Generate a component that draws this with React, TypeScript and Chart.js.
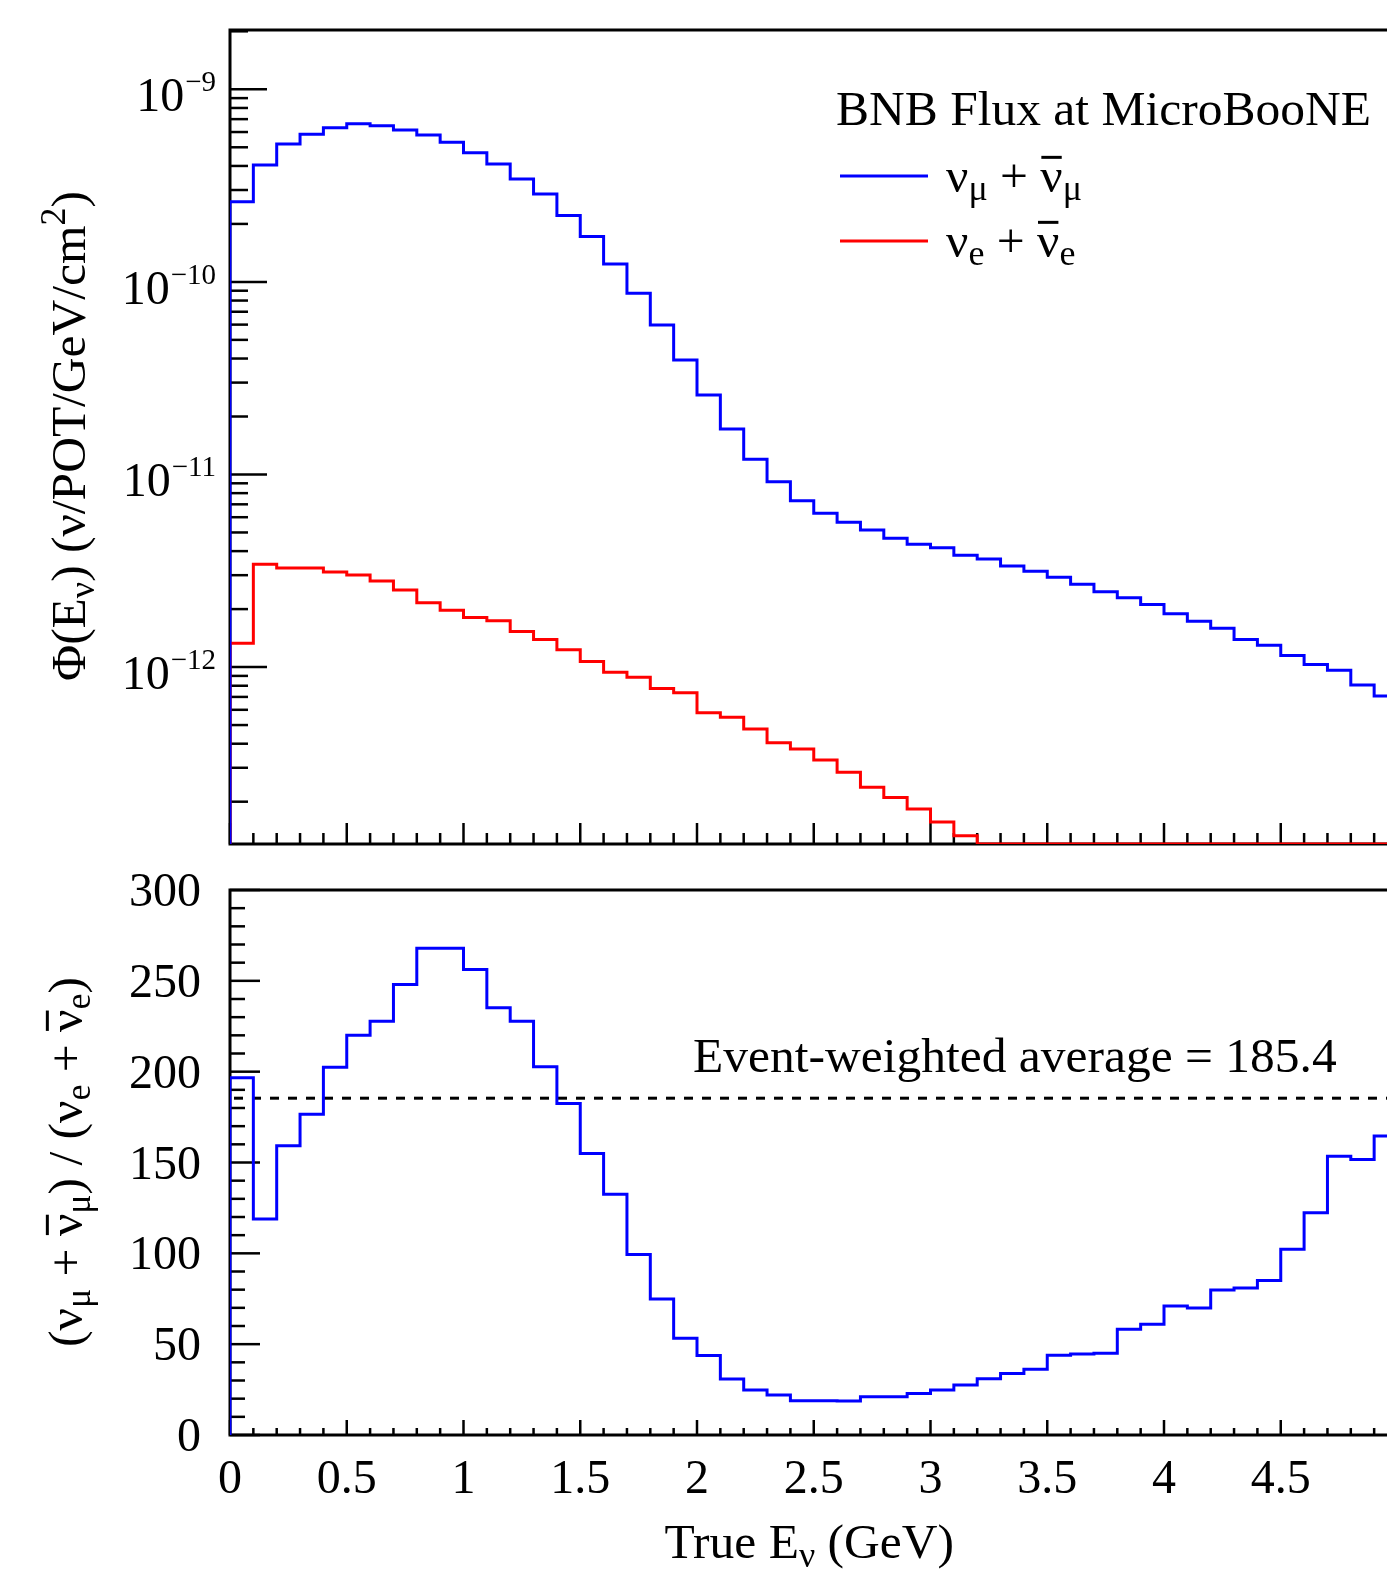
import React, { useEffect, useRef } from 'react';
import { Chart, registerables } from 'chart.js';

Chart.register(...registerables);

// ---------------- data ----------------
// lower edges of the 0.1 GeV true-energy bins (GeV)
const binLowEdges = [
  0.0, 0.1, 0.2, 0.3, 0.4, 0.5, 0.6, 0.7, 0.8, 0.9,
  1.0, 1.1, 1.2, 1.3, 1.4, 1.5, 1.6, 1.7, 1.8, 1.9,
  2.0, 2.1, 2.2, 2.3, 2.4, 2.5, 2.6, 2.7, 2.8, 2.9,
  3.0, 3.1, 3.2, 3.3, 3.4, 3.5, 3.6, 3.7, 3.8, 3.9,
  4.0, 4.1, 4.2, 4.3, 4.4, 4.5, 4.6, 4.7, 4.8, 4.9,
];
const BIN_WIDTH = 0.1;

// nu_mu + nu_mu-bar flux (nu/POT/GeV/cm^2)
const numuFlux = [
  2.61e-10, 4.05e-10, 5.20e-10, 5.84e-10, 6.32e-10, 6.63e-10, 6.47e-10, 6.15e-10, 5.79e-10, 5.31e-10,
  4.69e-10, 4.09e-10, 3.42e-10, 2.86e-10, 2.21e-10, 1.72e-10, 1.24e-10, 8.72e-11, 5.97e-11, 3.93e-11,
  2.59e-11, 1.72e-11, 1.20e-11, 9.17e-12, 7.31e-12, 6.29e-12, 5.65e-12, 5.15e-12, 4.66e-12, 4.34e-12,
  4.17e-12, 3.81e-12, 3.64e-12, 3.35e-12, 3.14e-12, 2.93e-12, 2.69e-12, 2.46e-12, 2.29e-12, 2.11e-12,
  1.89e-12, 1.73e-12, 1.59e-12, 1.39e-12, 1.30e-12, 1.15e-12, 1.03e-12, 9.62e-13, 8.07e-13, 7.08e-13,
];

// nu_e + nu_e-bar flux (nu/POT/GeV/cm^2); 0 = below the plotted range
const nueFlux = [
  1.33e-12, 3.42e-12, 3.27e-12, 3.27e-12, 3.12e-12, 3.01e-12, 2.80e-12, 2.51e-12, 2.16e-12, 1.97e-12,
  1.81e-12, 1.74e-12, 1.53e-12, 1.39e-12, 1.23e-12, 1.07e-12, 9.40e-13, 8.85e-13, 7.73e-13, 7.36e-13,
  5.80e-13, 5.49e-13, 4.77e-13, 4.05e-13, 3.76e-13, 3.29e-13, 2.84e-13, 2.38e-13, 2.10e-13, 1.83e-13,
  1.57e-13, 1.33e-13, 0, 0, 0, 0, 0, 0, 0, 0,
  0, 0, 0, 0, 0, 0, 0, 0, 0, 0,
];

// (nu_mu + nu_mu-bar) / (nu_e + nu_e-bar)
const fluxRatio = [
  196.6, 118.9, 159.2, 176.5, 202.4, 220.0, 227.7, 248.0, 267.9, 267.9,
  256.3, 235.2, 227.8, 202.7, 182.5, 155.0, 132.5, 99.4, 74.8, 53.2,
  43.7, 30.8, 24.8, 22.0, 18.9, 18.9, 18.7, 21.1, 21.1, 22.9,
  24.8, 27.5, 31.0, 33.9, 36.2, 43.9, 44.6, 45.0, 58.2, 60.9,
  71.0, 69.9, 79.8, 80.9, 85.1, 102.2, 122.3, 153.5, 151.7, 164.6,
];

const eventWeightedAverage = 185.4;

// axis ticks
const energyMajorTicks = [0, 0.5, 1, 1.5, 2, 2.5, 3, 3.5, 4, 4.5, 5];
const energyTickLabels = ['0', '0.5', '1', '1.5', '2', '2.5', '3', '3.5', '4', '4.5', '5'];
const fluxDecadeExponents = [-9, -10, -11, -12];
const ratioMajorTicks = [0, 50, 100, 150, 200, 250, 300];
const ratioTickLabels = ['0', '50', '100', '150', '200', '250', '300'];

// axis ranges
const ENERGY_MIN = 0;
const ENERGY_MAX = 5;
const FLUX_MIN = 1.206e-13;
const FLUX_MAX = 2.032e-9;
const RATIO_MIN = 0;
const RATIO_MAX = 300;

// ---------------- styling ----------------
const FONT = '"Liberation Serif", "Times New Roman", serif';
const BLUE = '#0000ff';
const RED = '#ff0000';
const W = 1420;
const TOP_H = 866;
const BOT_H = 706;
const TXT = 49.5;
const SUB = 36;

type Seg = { t: string; size: number; dy?: number; bar?: boolean };

function drawRich(ctx: CanvasRenderingContext2D, segs: Seg[], x: number, y: number, align: 'left' | 'center' | 'right') {
  const widths = segs.map((s) => {
    ctx.font = `${s.size}px ${FONT}`;
    return ctx.measureText(s.t).width;
  });
  const total = widths.reduce((a, b) => a + b, 0);
  let cx = align === 'left' ? x : align === 'center' ? x - total / 2 : x - total;
  ctx.textAlign = 'left';
  ctx.textBaseline = 'alphabetic';
  segs.forEach((s, i) => {
    ctx.font = `${s.size}px ${FONT}`;
    const yy = y + (s.dy || 0);
    ctx.fillText(s.t, cx, yy);
    if (s.bar) {
      ctx.save();
      ctx.lineWidth = 3;
      ctx.strokeStyle = ctx.fillStyle as string;
      ctx.beginPath();
      ctx.moveTo(cx + 1, yy - s.size * 0.7);
      ctx.lineTo(cx + widths[i] - 1, yy - s.size * 0.7);
      ctx.stroke();
      ctx.restore();
    }
    cx += widths[i];
  });
}

function stepPoints(values: number[], floor: number) {
  const pts: { x: number; y: number }[] = [{ x: binLowEdges[0], y: floor }];
  values.forEach((v, i) => pts.push({ x: binLowEdges[i], y: Math.max(v, floor) }));
  const last = values.length - 1;
  pts.push({ x: binLowEdges[last] + BIN_WIDTH, y: Math.max(values[last], floor) });
  return pts;
}

function line(ctx: CanvasRenderingContext2D, x1: number, y1: number, x2: number, y2: number) {
  ctx.beginPath();
  ctx.moveTo(x1, y1);
  ctx.lineTo(x2, y2);
  ctx.stroke();
}

function drawEnergyTicks(ctx: CanvasRenderingContext2D, chart: any, majorLen: number, minorLen: number) {
  const xs = chart.scales.x;
  const { bottom } = chart.chartArea;
  ctx.lineWidth = 2.5;
  for (let i = 0; i < binLowEdges.length; i++) {
    const v = binLowEdges[i];
    const isMajor = energyMajorTicks.some((m) => Math.abs(m - v) < 1e-6);
    const px = xs.getPixelForValue(v);
    line(ctx, px, bottom, px, bottom - (isMajor ? majorLen : minorLen));
  }
  const pxEnd = xs.getPixelForValue(ENERGY_MAX);
  line(ctx, pxEnd, bottom, pxEnd, bottom - majorLen);
}

function drawFrame(ctx: CanvasRenderingContext2D, chart: any) {
  const { left, right, top, bottom } = chart.chartArea;
  ctx.strokeStyle = '#000';
  ctx.lineWidth = 3;
  ctx.strokeRect(left, top, right - left, bottom - top);
}

const topAxesPlugin = {
  id: 'topAxes',
  beforeDatasetsDraw(chart: any) {
    const ctx = chart.ctx as CanvasRenderingContext2D;
    const { left } = chart.chartArea;
    const ys = chart.scales.y;
    ctx.save();
    drawFrame(ctx, chart);
    ctx.strokeStyle = '#000';
    ctx.lineWidth = 2.5;
    // log ticks
    const lo = Math.floor(Math.log10(FLUX_MIN));
    const hi = Math.ceil(Math.log10(FLUX_MAX));
    for (let e = lo; e <= hi; e++) {
      for (let m = 1; m <= 9; m++) {
        const v = m * Math.pow(10, e);
        if (v < FLUX_MIN || v > FLUX_MAX) continue;
        const py = ys.getPixelForValue(v);
        line(ctx, left, py, left + (m === 1 ? 37 : 18), py);
      }
    }
    drawEnergyTicks(ctx, chart, 21, 11);
    ctx.restore();
  },
  afterDraw(chart: any) {
    const ctx = chart.ctx as CanvasRenderingContext2D;
    const ys = chart.scales.y;
    ctx.save();
    ctx.fillStyle = '#000';
    // decade labels
    fluxDecadeExponents.forEach((e) => {
      const py = ys.getPixelForValue(Math.pow(10, e));
      ctx.font = `29px ${FONT}`;
      const sup = '\u2212' + String(Math.abs(e));
      const supW = ctx.measureText(sup).width;
      ctx.textAlign = 'right';
      ctx.textBaseline = 'alphabetic';
      ctx.fillText(sup, 216, py + 2);
      ctx.font = `48px ${FONT}`;
      ctx.fillText('10', 216 - supW - 1, py + 22);
    });
    // y title
    ctx.save();
    ctx.translate(85, 436);
    ctx.rotate(-Math.PI / 2);
    drawRich(
      ctx,
      [
        { t: '\u03A6(E', size: TXT },
        { t: '\u03BD', size: SUB, dy: 9 },
        { t: ') (\u03BD/POT/GeV/cm', size: TXT },
        { t: '2', size: SUB, dy: -20 },
        { t: ')', size: TXT },
      ],
      0,
      0,
      'center'
    );
    ctx.restore();
    // legend
    drawRich(ctx, [{ t: 'BNB Flux at MicroBooNE', size: TXT }], 836, 125, 'left');
    ctx.lineWidth = 3;
    ctx.strokeStyle = BLUE;
    line(ctx, 840, 176, 928, 176);
    ctx.strokeStyle = RED;
    line(ctx, 840, 241, 928, 241);
    ctx.fillStyle = '#000';
    drawRich(
      ctx,
      [
        { t: '\u03BD', size: TXT },
        { t: '\u03BC', size: SUB, dy: 8 },
        { t: ' + ', size: TXT },
        { t: '\u03BD', size: TXT, bar: true },
        { t: '\u03BC', size: SUB, dy: 8 },
      ],
      946,
      192,
      'left'
    );
    drawRich(
      ctx,
      [
        { t: '\u03BD', size: TXT },
        { t: 'e', size: SUB, dy: 8 },
        { t: ' + ', size: TXT },
        { t: '\u03BD', size: TXT, bar: true },
        { t: 'e', size: SUB, dy: 8 },
      ],
      946,
      257,
      'left'
    );
    ctx.restore();
  },
};

const bottomAxesPlugin = {
  id: 'bottomAxes',
  beforeDatasetsDraw(chart: any) {
    const ctx = chart.ctx as CanvasRenderingContext2D;
    const { left, right } = chart.chartArea;
    const ys = chart.scales.y;
    ctx.save();
    drawFrame(ctx, chart);
    ctx.strokeStyle = '#000';
    ctx.lineWidth = 2.5;
    for (let v = RATIO_MIN; v <= RATIO_MAX; v += 10) {
      const py = ys.getPixelForValue(v);
      const isMajor = ratioMajorTicks.includes(v);
      line(ctx, left, py, left + (isMajor ? 30 : 15), py);
    }
    drawEnergyTicks(ctx, chart, 15, 7);
    // event-weighted average
    ctx.lineWidth = 3;
    ctx.setLineDash([9, 9]);
    const pa = ys.getPixelForValue(eventWeightedAverage);
    line(ctx, left + 4, pa, right, pa);
    ctx.setLineDash([]);
    ctx.restore();
  },
  afterDraw(chart: any) {
    const ctx = chart.ctx as CanvasRenderingContext2D;
    const xs = chart.scales.x;
    const ys = chart.scales.y;
    ctx.save();
    ctx.fillStyle = '#000';
    ctx.font = `48px ${FONT}`;
    ctx.textAlign = 'right';
    ctx.textBaseline = 'alphabetic';
    ratioMajorTicks.forEach((v, i) => {
      ctx.fillText(ratioTickLabels[i], 201, ys.getPixelForValue(v) + 16);
    });
    ctx.textAlign = 'center';
    const base = chart.chartArea.bottom + 58;
    energyMajorTicks.forEach((v, i) => {
      ctx.fillText(energyTickLabels[i], xs.getPixelForValue(v), base);
    });
    drawRich(
      ctx,
      [
        { t: 'True E', size: TXT },
        { t: '\u03BD', size: SUB, dy: 9 },
        { t: ' (GeV)', size: TXT },
      ],
      954,
      chart.chartArea.bottom + 123,
      'right'
    );
    drawRich(ctx, [{ t: 'Event-weighted average = 185.4', size: TXT }], 693, ys.getPixelForValue(eventWeightedAverage) - 26, 'left');
    // y title
    ctx.save();
    ctx.translate(82, 1162 - 866);
    ctx.rotate(-Math.PI / 2);
    drawRich(
      ctx,
      [
        { t: '(\u03BD', size: TXT },
        { t: '\u03BC', size: SUB, dy: 8 },
        { t: ' + ', size: TXT },
        { t: '\u03BD', size: TXT, bar: true },
        { t: '\u03BC', size: SUB, dy: 8 },
        { t: ') / (\u03BD', size: TXT },
        { t: 'e', size: SUB, dy: 8 },
        { t: ' + ', size: TXT },
        { t: '\u03BD', size: TXT, bar: true },
        { t: 'e', size: SUB, dy: 8 },
        { t: ')', size: TXT },
      ],
      0,
      0,
      'center'
    );
    ctx.restore();
    ctx.restore();
  },
};

function baseOptions(yScale: any, padding: any) {
  return {
    responsive: false,
    animation: false as const,
    events: [] as any[],
    layout: { padding },
    plugins: { legend: { display: false }, tooltip: { enabled: false }, title: { display: false } },
    scales: {
      x: { type: 'linear', min: ENERGY_MIN, max: ENERGY_MAX, display: false },
      y: { ...yScale, display: false },
    },
    elements: { point: { radius: 0 } },
  };
}

export default function App() {
  const topRef = useRef<HTMLCanvasElement>(null);
  const botRef = useRef<HTMLCanvasElement>(null);

  useEffect(() => {
    const top = new Chart(topRef.current!, {
      type: 'line',
      data: {
        datasets: [
          {
            label: 'numu',
            data: stepPoints(numuFlux, FLUX_MIN),
            borderColor: BLUE,
            borderWidth: 3,
            stepped: 'before',
            fill: false,
            pointRadius: 0,
          },
          {
            label: 'nue',
            data: stepPoints(nueFlux, FLUX_MIN),
            borderColor: RED,
            borderWidth: 3,
            stepped: 'before',
            fill: false,
            pointRadius: 0,
          },
        ],
      },
      options: baseOptions(
        { type: 'logarithmic', min: FLUX_MIN, max: FLUX_MAX },
        { left: 230, top: 30, right: W - 1397.5, bottom: TOP_H - 844 }
      ) as any,
      plugins: [topAxesPlugin],
    });
    const bot = new Chart(botRef.current!, {
      type: 'line',
      data: {
        datasets: [
          {
            label: 'ratio',
            data: stepPoints(fluxRatio, RATIO_MIN),
            borderColor: BLUE,
            borderWidth: 3,
            stepped: 'before',
            fill: false,
            pointRadius: 0,
          },
        ],
      },
      options: baseOptions(
        { type: 'linear', min: RATIO_MIN, max: RATIO_MAX },
        { left: 230, top: 890 - TOP_H, right: W - 1397.5, bottom: TOP_H + BOT_H - 1435 }
      ) as any,
      plugins: [bottomAxesPlugin],
    });
    return () => {
      top.destroy();
      bot.destroy();
    };
  }, []);

  return (
    <div style={{ position: 'absolute', left: 0, top: 0, width: 1387, height: 1572, overflow: 'hidden', background: '#fff' }}>
      <canvas ref={topRef} width={W} height={TOP_H} style={{ position: 'absolute', left: 0, top: 0, width: W, height: TOP_H }} />
      <canvas ref={botRef} width={W} height={BOT_H} style={{ position: 'absolute', left: 0, top: TOP_H, width: W, height: BOT_H }} />
    </div>
  );
}
